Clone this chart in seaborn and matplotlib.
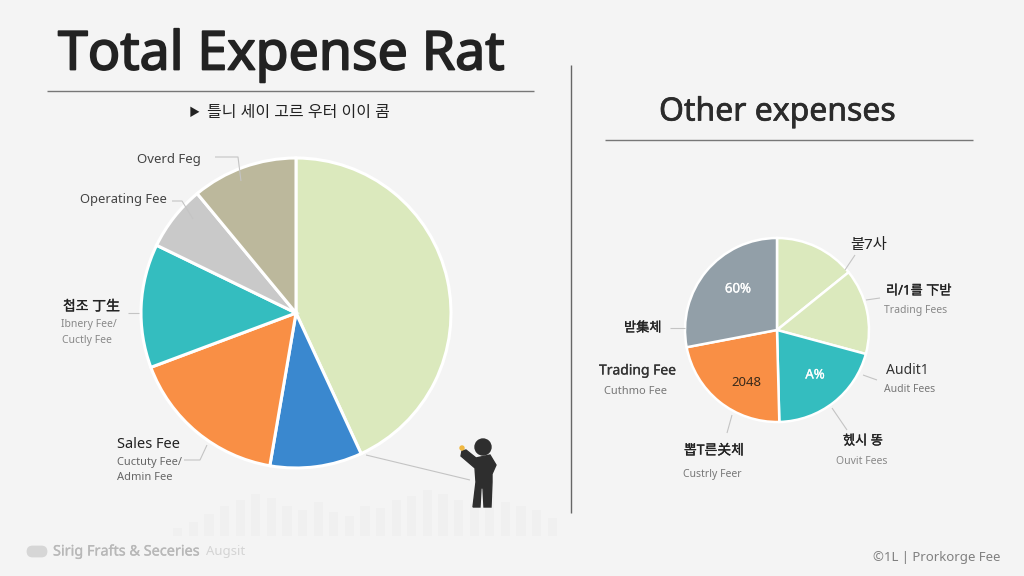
import matplotlib
matplotlib.use('Agg')
import matplotlib.pyplot as plt
from matplotlib.patches import Circle, FancyBboxPatch, Polygon
import matplotlib.patheffects as pe
import pandas as pd
import seaborn as sns

# values (share of each pie, clockwise from 12 o'clock)
left_names = ['Main', 'Blue', 'Sales Fee', 'Teal', 'Operating Fee', 'Overd Feg']
left_values = [43.1, 9.6, 16.6, 12.9, 6.8, 11.0]
left_colors = ['#dbe9bd', '#3a88cf', '#f98f45', '#34bdbf', '#c9c9c9', '#bcb89c']

right_names = ['Top', 'Trading', 'Audit', 'Trading Fee', 'Gray']
right_values = [14.2, 15.0, 20.4, 22.4, 28.0]
right_colors = ['#dbe9bd', '#dbe9bd', '#34bdbf', '#f98f45', '#929fa8']

# the very faint bars behind the bottom of the chart
bg_heights = [8, 14, 22, 30, 36, 42, 38, 30, 26, 34, 24, 20, 30, 28, 36, 40, 46, 42, 36, 32, 40, 34, 30, 26, 18]

BG = '#f4f4f4'
W, H = 1024, 576

sns.set_theme(style='white')
plt.rcParams['font.family'] = ['Noto Sans', 'Noto Sans CJK KR', 'DejaVu Sans']
plt.rcParams['figure.facecolor'] = BG
plt.rcParams['axes.facecolor'] = BG

fig = plt.figure(figsize=(10.24, 5.76), dpi=100)


def pie_axes(cx, cy, r):
    ax = fig.add_axes([(cx - r) / W, 1 - (cy + r) / H, 2 * r / W, 2 * r / H])
    ax.set_xlim(-1, 1)
    ax.set_ylim(-1, 1)
    ax.set_aspect('equal')
    ax.axis('off')
    return ax


# faint bars
bg_ax = fig.add_axes([170 / W, 1 - 536 / H, 390 / W, 50 / H])
bg_df = pd.DataFrame({'i': range(len(bg_heights)), 'h': bg_heights})
sns.barplot(data=bg_df, x='i', y='h', color='#f0f0f0', saturation=1, width=0.6, linewidth=0, ax=bg_ax)
bg_ax.set_ylim(0, 50)
bg_ax.axis('off')

# left pie
ax1 = pie_axes(296, 313, 155)
ax1.pie(left_values, colors=sns.color_palette(left_colors), startangle=90, counterclock=False,
        radius=1, wedgeprops={'edgecolor': 'white', 'linewidth': 2.2}, center=(0, 0), frame=True)
ax1.set_xlim(-1, 1)
ax1.set_ylim(-1, 1)
ax1.axis('off')

# right pie
ax2 = pie_axes(777, 330, 92)
ax2.pie(right_values, colors=sns.color_palette(right_colors), startangle=90, counterclock=False,
        radius=1, wedgeprops={'edgecolor': 'white', 'linewidth': 1.8}, center=(0, 0), frame=True)
ax2.set_xlim(-1, 1)
ax2.set_ylim(-1, 1)
ax2.axis('off')

# overlay in pixel coords for text, rules and the little figure
ov = fig.add_axes([0, 0, 1, 1], facecolor='none')
ov.set_xlim(0, W)
ov.set_ylim(H, 0)
ov.axis('off')


def txt(x, y, s, size=9, color='#333333', ha='left', weight='normal', stroke=0):
    t = ov.text(x, y, s, fontsize=size, color=color, ha=ha, va='center', fontweight=weight)
    if stroke:
        t.set_path_effects([pe.withStroke(linewidth=stroke, foreground=color)])


def line(xs, ys, color='#c4c4c4', lw=0.8):
    ov.plot(xs, ys, color=color, lw=lw, solid_capstyle='butt')


txt(58, 56, 'Total Expense Rat', size=38.6, color='#222222', stroke=1.3)
line([47, 534], [91, 91], color='#777777', lw=1)
txt(189, 113, '▶', size=8, color='#222222')
txt(207, 113, '틀니 세이 고르 우터 이이 콤', size=11.5, color='#222222')

txt(659, 112, 'Other expenses', size=23, color='#2b2b2b', stroke=0.5)
line([605, 973], [140, 140], color='#777777', lw=1)
line([571, 571], [65, 513], color='#666666', lw=1)

# left pie labels
txt(137, 159, 'Overd Feg', size=9.5, color='#444444')
line([215, 238, 241], [157, 157, 181])
txt(80, 200, 'Operating Fee', size=9.3, color='#444444')
line([172, 182, 193], [201, 201, 219])
txt(63, 307, '첩조 丁生', size=10, color='#222222', stroke=0.2)
txt(61, 325, 'Ibnery Fee/', size=7.5, color='#888888')
txt(62, 340, 'Cuctly Fee', size=7.5, color='#888888')
line([128, 139], [313, 313])
txt(117, 445, 'Sales Fee', size=10.5, color='#222222')
txt(117, 463, 'Cuctuty Fee/', size=8, color='#666666')
txt(117, 478, 'Admin Fee', size=8, color='#666666')
line([184, 200, 207], [460, 460, 445])
line([366, 470], [455, 480])

# right pie labels
txt(850, 246, '붙7사', size=11, color='#222222')
line([845, 855], [270, 255])
txt(886, 291, '리/1를 下받', size=9.5, color='#222222', stroke=0.2)
txt(884, 311, 'Trading Fees', size=7.5, color='#888888')
line([866, 880], [300, 298])
txt(886, 371, 'Audit1', size=10, color='#333333')
txt(884, 389, 'Audit Fees', size=7.5, color='#777777')
line([863, 877], [375, 380])
txt(843, 441, '헸시 똥', size=9.5, color='#222222', stroke=0.2)
txt(836, 461, 'Ouvit Fees', size=7.5, color='#888888')
line([832, 847], [408, 430])
txt(684, 451, '뽑T른关체', size=10, color='#222222', stroke=0.2)
txt(683, 475, 'Custrly Feer', size=7.5, color='#777777')
line([732, 727], [415, 433])
txt(624, 328, '받集체', size=9.5, color='#222222', stroke=0.2)
line([670, 685], [328, 328])
txt(599, 371, 'Trading Fee', size=10, color='#333333', stroke=0.2)
txt(604, 392, 'Cuthmo Fee', size=8, color='#777777')

# labels inside the right pie
txt(738, 289, '60%', size=9.5, color='white', ha='center', stroke=0.2)
txt(746, 383, '2048', size=9.5, color='#3a2a1a', ha='center')
txt(815, 375, 'A%', size=9.5, color='white', ha='center', stroke=0.2)

# little figure
dark = '#2e2e2e'
ov.add_patch(Circle((483, 447), 8, color=dark))
ov.add_patch(Polygon([(462, 451), (466, 450), (476, 458), (490, 455), (496, 465), (492, 474),
                      (492, 482), (491, 507), (484, 507), (483, 488), (481, 488), (480, 507),
                      (473, 507), (476, 482), (475, 468), (461, 456)], closed=True, color=dark))
ov.add_patch(Circle((462, 448), 2, color='#f0b840'))

# footer
ov.add_patch(FancyBboxPatch((28, 547), 18, 9, boxstyle='round,pad=0,rounding_size=4.5',
                            mutation_aspect=1, fc='#d6d6d6', ec='#d6d6d6', lw=2))
txt(53, 552, 'Sirig Frafts & Seceries', size=10.4, color='#b8b8b8', stroke=0.2)
txt(206, 552, 'Augsit', size=9.5, color='#d4d4d4')
txt(873, 557, '©1L | Prorkorge Fee', size=9.5, color='#808080')

fig.savefig('out.png', dpi=100, facecolor=BG)
